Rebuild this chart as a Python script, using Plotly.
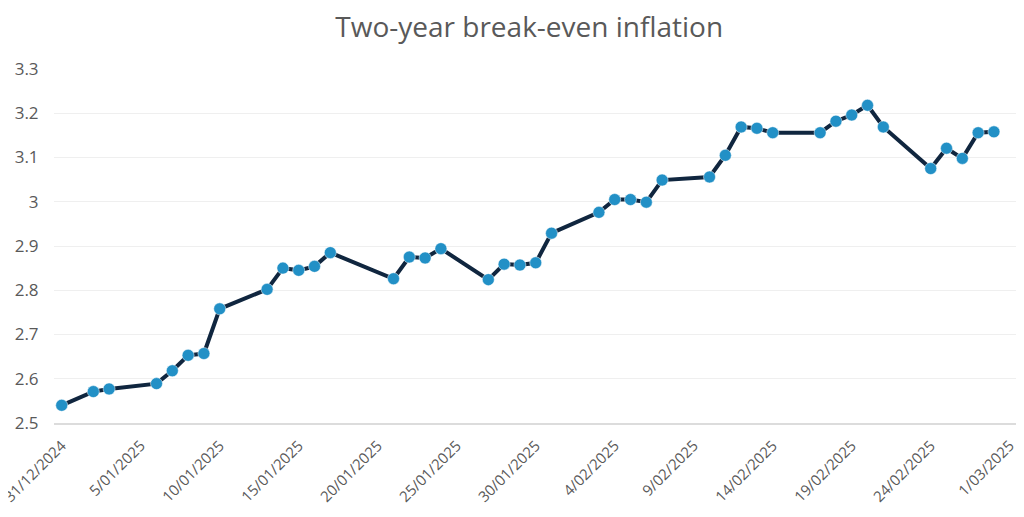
import plotly.graph_objects as go

# Two-year break-even inflation, daily observations
dates = [
    "2024-12-31", "2025-01-02", "2025-01-03", "2025-01-06", "2025-01-07",
    "2025-01-08", "2025-01-09", "2025-01-10", "2025-01-13", "2025-01-14",
    "2025-01-15", "2025-01-16", "2025-01-17", "2025-01-21", "2025-01-22",
    "2025-01-23", "2025-01-24", "2025-01-27", "2025-01-28", "2025-01-29",
    "2025-01-30", "2025-01-31", "2025-02-03", "2025-02-04", "2025-02-05",
    "2025-02-06", "2025-02-07", "2025-02-10", "2025-02-11", "2025-02-12",
    "2025-02-13", "2025-02-14", "2025-02-17", "2025-02-18", "2025-02-19",
    "2025-02-20", "2025-02-21", "2025-02-24", "2025-02-25", "2025-02-26",
    "2025-02-27", "2025-02-28",
]
breakeven = [
    2.540, 2.571, 2.577, 2.589, 2.618,
    2.653, 2.657, 2.758, 2.802, 2.850,
    2.845, 2.854, 2.885, 2.826, 2.875,
    2.873, 2.894, 2.824, 2.859, 2.857,
    2.862, 2.929, 2.976, 3.005, 3.005,
    2.999, 3.049, 3.056, 3.105, 3.169,
    3.166, 3.156, 3.156, 3.182, 3.196,
    3.218, 3.169, 3.075, 3.121, 3.098,
    3.156, 3.158,
]
y_ticks = [2.5, 2.6, 2.7, 2.8, 2.9, 3, 3.1, 3.2, 3.3]
y_tick_labels = ["2.5", "2.6", "2.7", "2.8", "2.9", "3", "3.1", "3.2", "3.3"]

FONT = "Open Sans"
GREY = "#595959"

fig = go.Figure()

fig.add_trace(go.Scatter(
    x=dates, y=breakeven,
    mode="lines+markers",
    name="Two-year break-even inflation",
    line=dict(color="#10263f", width=4),
    marker=dict(color="#2290c6", size=12, line=dict(color="#ffffff", width=0.5)),
))

# the page body has an 8px margin, so the layout is offset to compensate
fig.update_layout(
    width=1024, height=517,
    paper_bgcolor="white",
    plot_bgcolor="white",
    showlegend=False,
    margin=dict(l=46, r=8, t=61, b=102),
    font=dict(family=FONT, color=GREY),
    title=dict(
        text="Two-year break-even inflation",
        x=0.509, xanchor="center",
        y=0.963, yanchor="middle",
        font=dict(family=FONT, size=28, color=GREY),
    ),
)

fig.update_xaxes(
    type="date",
    range=["2024-12-30 12:18", "2025-03-01 21:40"],
    tick0="2024-12-31",
    dtick=5 * 86400000,
    tickformat="%-d/%m/%Y",
    tickangle=-45,
    tickfont=dict(family=FONT, size=15, color=GREY),
    ticklabeloverflow="allow",
    showgrid=False,
    showline=True,
    linecolor="#dcdcdc",
    linewidth=2,
    ticks="outside",
    ticklen=6,
    tickcolor="rgba(0,0,0,0)",
    automargin=False,
)

fig.update_yaxes(
    range=[2.5, 3.3],
    tickvals=y_ticks,
    ticktext=y_tick_labels,
    tickfont=dict(family=FONT, size=17, color=GREY),
    showgrid=True,
    gridcolor="#efefef",
    gridwidth=1,
    zeroline=False,
    ticks="outside",
    ticklen=11,
    tickcolor="rgba(0,0,0,0)",
    automargin=False,
)

fig.write_html("out.html")
